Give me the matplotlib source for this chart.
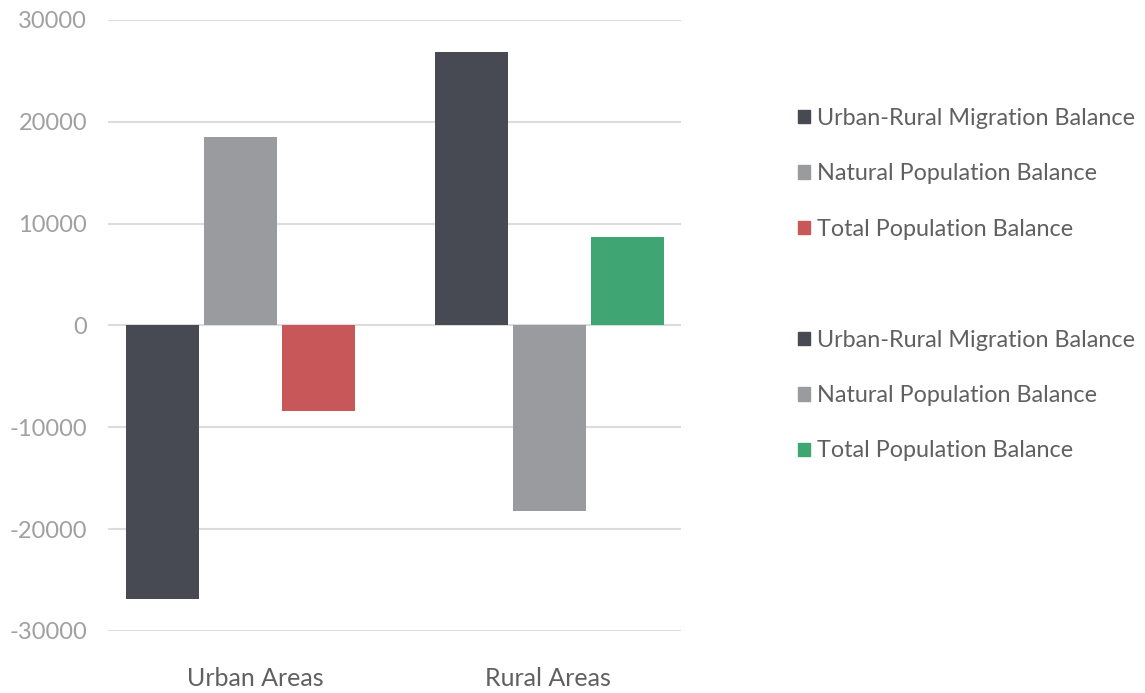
import matplotlib.pyplot as plt
from matplotlib.patches import Patch

# data
categories = ['Urban Areas', 'Rural Areas']
series = ['Urban-Rural Migration Balance', 'Natural Population Balance', 'Total Population Balance']
urban = [-26900, 18500, -8400]
rural = [26900, -18200, 8700]
yticks = [-30000, -20000, -10000, 0, 10000, 20000, 30000]

dark = '#474a52'
gray = '#9a9b9f'
red = '#c75758'
green = '#3fa673'
urban_colors = [dark, gray, red]
rural_colors = [dark, gray, green]

plt.rcParams['font.family'] = ['Lato', 'DejaVu Sans']

fig = plt.figure(figsize=(11.45, 6.93), dpi=100)
ax = fig.add_axes([0.0943, 0.0895, 0.5004, 0.8817])

w = 0.249
offsets = [-0.266, 0, 0.266]
shift = [-0.05, 0.006]

for i, v in enumerate(urban):
    ax.bar(0 + shift[0] + offsets[i], v, width=w, color=urban_colors[i], zorder=3)
for i, v in enumerate(rural):
    ax.bar(1 + shift[1] + offsets[i], v, width=w, color=rural_colors[i], zorder=3)

ax.set_ylim(-30000, 30000)
ax.set_xlim(-0.502, 1.454)
ax.set_yticks(yticks)
ax.set_yticklabels([str(t) for t in yticks])
ax.set_xticks([0, 1])
ax.set_xticklabels(categories)
ax.grid(axis='y', color='#dcdcdc', linewidth=1.5, zorder=0)
for s in ax.spines.values():
    s.set_visible(False)
ax.tick_params(axis='y', length=0, pad=15, labelsize=17, labelcolor='#a0a0a0')
ax.tick_params(axis='x', length=0, pad=26, labelsize=18, labelcolor='#606060')

h1 = [Patch(color=c) for c in urban_colors]
h2 = [Patch(color=c) for c in rural_colors]
kw = dict(frameon=False, fontsize=16.8, labelcolor='#606060', handlelength=0.5, handleheight=0.5,
          handletextpad=0.3, labelspacing=1.47, loc='upper left', borderpad=0, borderaxespad=0)
leg1 = fig.legend(h1, series, bbox_to_anchor=(0.697, 0.844), **kw)
leg2 = fig.legend(h2, series, bbox_to_anchor=(0.697, 0.524), **kw)

plt.savefig('out.png')
